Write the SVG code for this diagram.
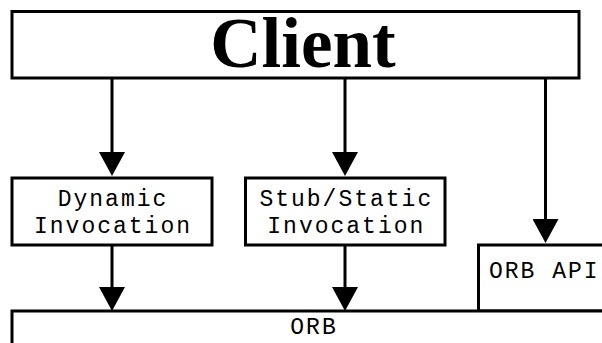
<svg xmlns="http://www.w3.org/2000/svg" width="602" height="343" viewBox="0 0 602 343">
  <style>
    .box { fill: #ffffff; stroke: #000000; stroke-width: 3; }
    .conn { stroke: #000000; stroke-width: 3; fill: none; }
    .mono { font-family: "Liberation Mono", "Courier New", monospace; font-size: 23px; letter-spacing: 2px; fill: #000000; }
    .title { font-family: "Liberation Serif", "Times New Roman", serif; font-size: 71px; font-weight: bold; fill: #000000; }
  </style>
  <defs>
    <marker id="arrow" markerUnits="userSpaceOnUse" markerWidth="25" markerHeight="26" viewBox="0 0 24 26" refX="0" refY="13" orient="auto">
      <path d="M0,0 L24,13 L0,26 z" fill="#000000"/>
    </marker>
  </defs>
  <rect width="602" height="343" fill="#ffffff"/>

  <g id="client">
    <rect class="box" x="12" y="11.5" width="567" height="66.5"/>
    <text class="title" x="303" y="66.7" text-anchor="middle">Client</text>
  </g>

  <g id="dynamic-invocation">
    <rect class="box" x="12" y="178" width="200" height="67"/>
    <text class="mono" x="113" y="206" text-anchor="middle">Dynamic</text>
    <text class="mono" x="113" y="232.7" text-anchor="middle">Invocation</text>
  </g>

  <g id="stub-static-invocation">
    <rect class="box" x="245.5" y="178" width="199.5" height="67"/>
    <text class="mono" x="346.3" y="206" text-anchor="middle">Stub/Static</text>
    <text class="mono" x="346.3" y="232.7" text-anchor="middle">Invocation</text>
  </g>

  <g id="orb-api">
    <rect class="box" x="478.5" y="245" width="140" height="66"/>
    <text class="mono" x="489" y="277.7">ORB API</text>
  </g>

  <g id="orb">
    <rect class="box" x="12" y="311" width="602" height="60"/>
    <text class="mono" x="314" y="334" text-anchor="middle">ORB</text>
  </g>

  <g id="connectors">
    <line class="conn" x1="112" y1="78" x2="112" y2="152" marker-end="url(#arrow)"/>
    <line class="conn" x1="345" y1="78" x2="345" y2="152" marker-end="url(#arrow)"/>
    <line class="conn" x1="545.5" y1="78" x2="545.5" y2="219" marker-end="url(#arrow)"/>
    <line class="conn" x1="112" y1="245" x2="112" y2="287" marker-end="url(#arrow)"/>
    <line class="conn" x1="345" y1="245" x2="345" y2="287" marker-end="url(#arrow)"/>
  </g>
</svg>
